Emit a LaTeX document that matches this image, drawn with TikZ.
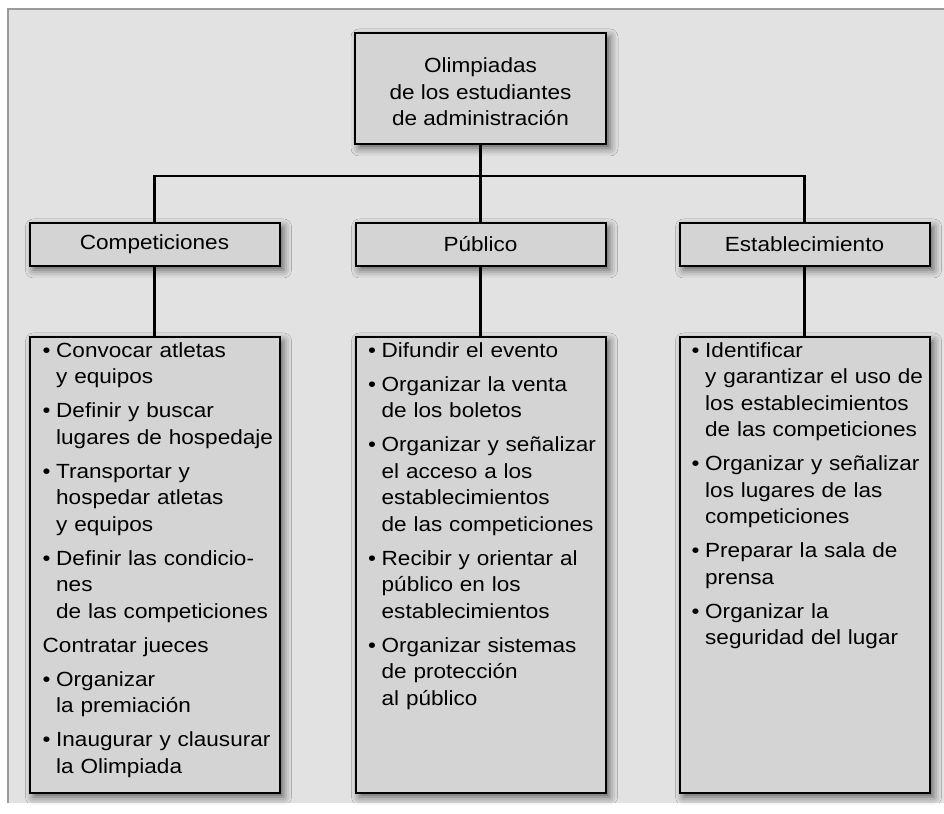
\documentclass[tikz,border=0pt]{standalone}
\usepackage{fontspec}
\setmainfont{Liberation Sans}[FakeStretch=1.1]
\usetikzlibrary{positioning,shadows.blur}

\definecolor{framegray}{HTML}{9A9A9A}
\definecolor{bggray}{HTML}{E2E2E2}
\definecolor{boxgray}{HTML}{D4D4D4}

% bullet item with hanging indent
\newcommand\bul[1]{\par\noindent\hangindent=13.5pt\hangafter=1\makebox[13.5pt][l]{\textbullet}\strut#1\par}

\begin{document}
\begin{tikzpicture}[x=1pt, y=1pt,
    every node/.style={font=\fontsize{20.5}{26.5}\selectfont},
    box/.style={draw, line width=2pt, fill=boxgray, minimum width=250pt, align=center,
        blur shadow={shadow xshift=4pt, shadow yshift=-4pt, shadow blur radius=8pt, shadow opacity=60}},
    titlebox/.style={box, minimum width=251pt, minimum height=111pt},
    areabox/.style={box, minimum height=43pt},
    listbox/.style={box, minimum height=456pt},
    listtext/.style={anchor=north west, inner sep=0pt, text width=240pt, align=left,
        execute at begin node={\setlength{\parskip}{7.5pt}}},
    conn/.style={line width=2.2pt},
]
% frame
\useasboundingbox (0,0) rectangle (944,813);
\fill[bggray] (8,10) rectangle (944,804);
\draw[framegray, line width=2.5pt] (8,10) -- (8,804) -- (944,804);

% top
\node[titlebox] (title) at (480.5,724.5) {\rule{0pt}{22pt}Olimpiadas\\de los estudiantes\\de administración};

% areas
\node[areabox, below=77pt of title] (pub) {Público};
\node[areabox, left=74pt of pub] (comp) {Competiciones};
\node[areabox, right=72pt of pub] (estab) {Establecimiento};

% task lists
\node[listbox, below=69pt of comp] (compList) {};
\node[listbox, below=69pt of pub] (pubList) {};
\node[listbox, below=69pt of estab] (estabList) {};

\node[listtext] (compText) at ([xshift=14pt,yshift=13pt]compList.north west) {%
  \bul{Convocar atletas\newline y equipos}
  \bul{Definir y buscar\newline lugares de hospedaje}
  \bul{Transportar y\newline hospedar atletas\newline y equipos}
  \bul{Definir las condicio-\newline nes\newline de las competiciones}
  \par\noindent Contratar jueces\par
  \bul{Organizar\newline la premiación}
  \bul{Inaugurar y clausurar\newline la Olimpiada}};
\node[listtext] (pubText) at ([xshift=13.5pt,yshift=13pt]pubList.north west) {%
  \bul{Difundir el evento}
  \bul{Organizar la venta\newline de los boletos}
  \bul{Organizar y señalizar\newline el acceso a los\newline establecimientos\newline de las competiciones}
  \bul{Recibir y orientar al\newline público en los\newline establecimientos}
  \bul{Organizar sistemas\newline de protección\newline al público}};
\node[listtext] (estabText) at ([xshift=13pt,yshift=13pt]estabList.north west) {%
  \bul{Identificar\newline y garantizar el uso de\newline los establecimientos\newline de las competiciones}
  \bul{Organizar y señalizar\newline los lugares de las\newline competiciones}
  \bul{Preparar la sala de\newline prensa}
  \bul{Organizar la\newline seguridad del lugar}};

% connectors
\coordinate (bar) at ([yshift=-31pt]title.south);
\draw[conn] (title.south) -- (pub.north);
\draw[conn] (comp.north) |- (bar) -| (estab.north);
\draw[conn] (comp.south) -- (compList.north);
\draw[conn] (pub.south) -- (pubList.north);
\draw[conn] (estab.south) -- (estabList.north);
\end{tikzpicture}
\end{document}
